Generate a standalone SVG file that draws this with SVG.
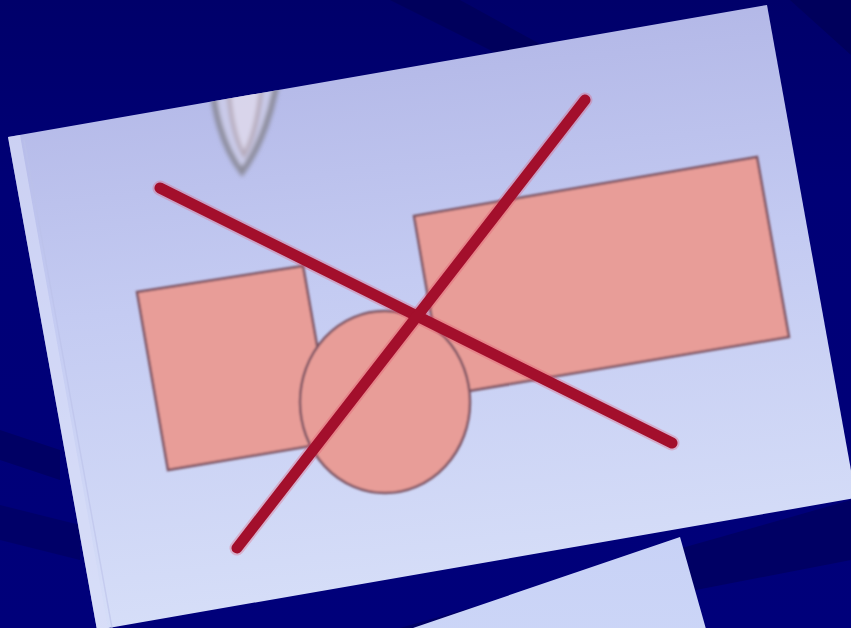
<svg xmlns="http://www.w3.org/2000/svg" width="851" height="628" viewBox="0 0 851 628">
  <defs>
    <linearGradient id="bgGrad" x1="0" y1="0" x2="0" y2="1">
      <stop offset="0" stop-color="#00006a"/>
      <stop offset="0.3" stop-color="#000076"/>
      <stop offset="1" stop-color="#00007a"/>
    </linearGradient>
    <linearGradient id="cardGrad" x1="0" y1="0" x2="0.15" y2="1">
      <stop offset="0" stop-color="#aeb2e4"/>
      <stop offset="0.5" stop-color="#c4cbf2"/>
      <stop offset="1" stop-color="#d6def8"/>
    </linearGradient>
    <linearGradient id="card2Grad" x1="0" y1="0" x2="0" y2="1">
      <stop offset="0" stop-color="#c8d2f6"/>
      <stop offset="1" stop-color="#d8e0fa"/>
    </linearGradient>
    <clipPath id="cardClip">
      <polygon points="8,137 767,5 856,498 97,630"/>
    </clipPath>
    <filter id="soft" x="-10%" y="-10%" width="120%" height="120%">
      <feGaussianBlur stdDeviation="1.2"/>
    </filter>
    <filter id="blur" x="-20%" y="-20%" width="140%" height="140%">
      <feGaussianBlur stdDeviation="2"/>
    </filter>
    <style>
      .shape { fill: #e89d98; stroke: #7c5262; stroke-width: 2.5; }
      .cross { stroke: #a30f2c; stroke-width: 11; stroke-linecap: round; fill: none; }
      .halo { stroke: #e0506a; stroke-width: 15; stroke-linecap: round; fill: none; opacity: 0.3; }
    </style>
  </defs>

  <g id="background">
    <rect x="0" y="0" width="851" height="628" fill="url(#bgGrad)"/>
    <polygon points="390,0 460,0 560,55 510,60" fill="#00005c"/>
    <polygon points="790,0 851,0 851,55" fill="#00005c"/>
    <polygon points="0,430 60,450 60,480 0,460" fill="#000064"/>
    <polygon points="0,505 80,525 80,560 0,540" fill="#000064" opacity="0.8"/>
    <polygon points="400,628 851,500 851,560 500,628" fill="#000064"/>
  </g>

  <g id="card2">
    <polygon points="680,537 760,820 300,980 413,628" fill="url(#card2Grad)"/>
  </g>

  <g id="card">
    <polygon points="8,137 767,5 856,498 97,630" fill="url(#cardGrad)"/>
    <polygon points="8,137 20,135 108,628 97,630" fill="#d8def8" opacity="0.6"/>
    <line x1="24" y1="140" x2="112" y2="628" stroke="#bcc2ea" stroke-width="1.5" opacity="0.6"/>
  </g>

  <g id="glyph" clip-path="url(#cardClip)" filter="url(#blur)">
    <path d="M 212,60 C 210,110 225,150 242,172 C 258,150 276,110 280,55" fill="#d6d4ea" fill-opacity="0.6" stroke="#8c8c9c" stroke-width="6"/>
    <path d="M 228,70 C 228,110 235,140 244,155 C 253,140 261,110 263,65" fill="#e2dcec" fill-opacity="0.6" stroke="#b4a8b8" stroke-width="4"/>
  </g>

  <g id="shapes" filter="url(#soft)">
    <polygon id="leftRect" class="shape" points="137,292 303,266 334,442 168,470"/>
    <polygon id="rightRect" class="shape" points="414,216 757,157 789,337 445,395"/>
    <ellipse id="circle" class="shape" cx="385" cy="402" rx="85" ry="91"/>
  </g>

  <g id="cross">
    <line class="halo" x1="160" y1="188" x2="672" y2="443"/>
    <line class="halo" x1="585" y1="100" x2="237" y2="548"/>
    <line class="cross" x1="160" y1="188" x2="672" y2="443"/>
    <line class="cross" x1="585" y1="100" x2="237" y2="548"/>
  </g>
</svg>
